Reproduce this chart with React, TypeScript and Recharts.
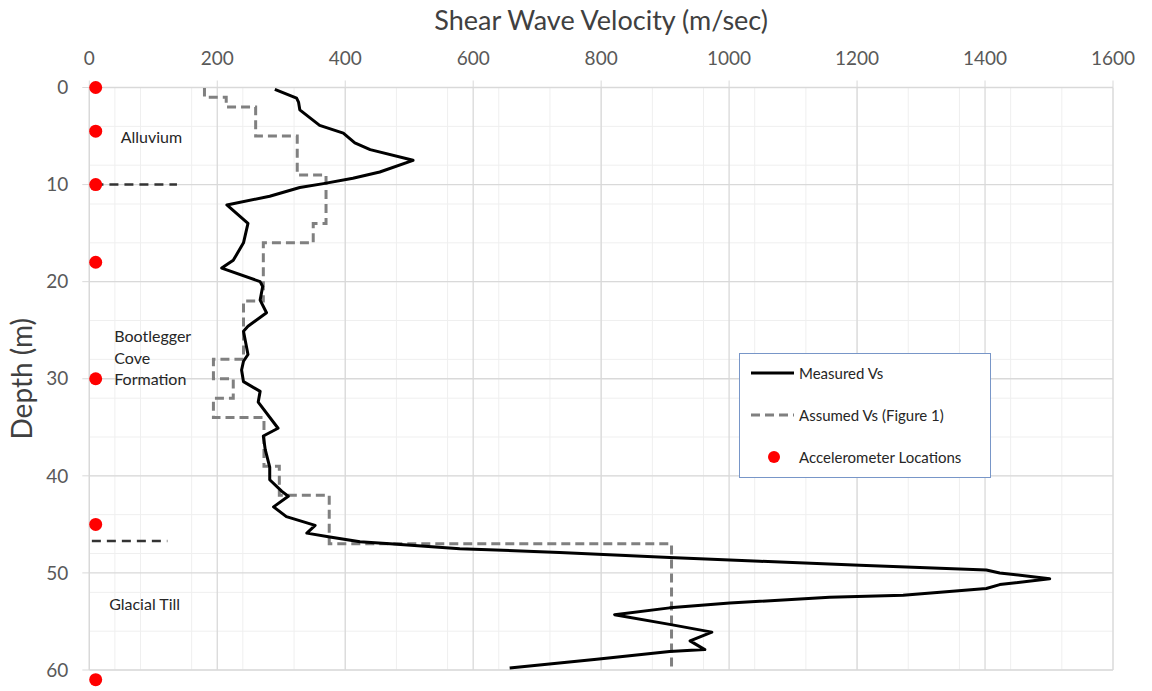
import React from 'react'
import {
  LineChart,
  Line,
  XAxis,
  YAxis,
  CartesianGrid,
  ReferenceDot,
  Legend,
  Label,
} from 'recharts'

const FONT = 'Lato, "Open Sans", sans-serif'

// measured shear wave velocity profile: [velocity m/s, depth m]
const measuredVs: [number, number][] = [
  [290, 0.2], [324, 1.1], [327, 1.5], [329, 2.3], [360, 3.9], [397, 4.7], [415, 5.7],
  [439, 6.4], [506, 7.5], [454, 8.7], [412, 9.35], [366, 9.9], [329, 10.3], [282, 11.2],
  [215, 12.1], [248, 14.0], [241, 16.0], [225, 17.8], [207, 18.6], [267, 20.0], [271, 20.5],
  [267, 21.9], [277, 23.2], [248, 24.6], [241, 25.1], [248, 27.5], [241, 28.2], [238, 29.1],
  [241, 30.3], [267, 31.3], [264, 32.4], [295, 35.1], [272, 35.9], [275, 37.3], [282, 39.1],
  [282, 40.4], [301, 41.6], [311, 42.1], [288, 43.2], [308, 44.2], [353, 45.1], [340, 45.9],
  [376, 46.3], [423, 46.8], [470, 47.0], [579, 47.5], [735, 47.9], [907, 48.4], [1048, 48.8],
  [1204, 49.2], [1402, 49.7], [1423, 50.0], [1501, 50.6], [1423, 51.2], [1402, 51.6],
  [1272, 52.3], [1157, 52.5], [1001, 53.1], [907, 53.6], [821, 54.3], [907, 55.3], [973, 56.1],
  [939, 57.0], [962, 57.9], [907, 58.1], [793, 58.9], [657, 59.8],
]

// assumed layered profile, corner points of the step function
const assumedVs: [number, number][] = [
  [180, 0], [180, 1], [214, 1], [214, 2], [260, 2], [260, 5], [325, 5], [325, 9], [370, 9],
  [370, 14], [350, 14], [350, 16], [272, 16], [272, 22], [241, 22], [241, 28], [194, 28],
  [194, 30], [225, 30], [225, 32], [194, 32], [194, 34], [273, 34], [273, 39], [297, 39],
  [297, 42], [375, 42], [375, 47], [910, 47], [910, 60],
]

// accelerometer depths (m), all at the borehole
const accelDepths = [0, 4.5, 10, 18, 30, 45, 61]
const accelVs = 10

// formation boundary markers
const boundaries: [number, number, number][] = [
  // [depth, from Vs, to Vs]
  [10, 8, 137],
  [46.7, 4, 122],
]

// formation names: text lines, anchor velocity, first baseline depth
const formations: { lines: string[]; v: number; d: number }[] = [
  { lines: ['Alluvium'], v: 49, d: 5.7 },
  { lines: ['Bootlegger', 'Cove', 'Formation'], v: 39, d: 26.2 },
  { lines: ['Glacial Till'], v: 31, d: 53.8 },
]

const xTicks = [0, 200, 400, 600, 800, 1000, 1200, 1400, 1600]
const yTicks = [0, 10, 20, 30, 40, 50, 60]
// minor gridlines every 40 m/s and every 2 m
const xMinor = Array.from({ length: 41 }, (_, i) => i * 40)
const yMinor = Array.from({ length: 31 }, (_, i) => i * 2)

const toPts = (rows: [number, number][]) => rows.map(([v, d]) => ({ v, d }))

const legendItems = [
  { name: 'Measured Vs', kind: 'solid' },
  { name: 'Assumed Vs (Figure 1)', kind: 'dash' },
  { name: 'Accelerometer Locations', kind: 'dot' },
]

function LegendBox() {
  return (
    <div
      style={{
        width: 252,
        height: 125,
        border: '1.5px solid #7896C8',
        background: '#fff',
        boxSizing: 'border-box',
        position: 'relative',
        fontFamily: FONT,
        fontSize: 15,
        color: '#262626',
      }}
    >
      {legendItems.map((it, i) => (
        <div
          key={it.name}
          style={{ position: 'absolute', left: 10, top: 7 + i * 42, height: 24, display: 'flex', alignItems: 'center' }}
        >
          <svg width={48} height={24}>
            {it.kind === 'solid' && <line x1={1} y1={12} x2={44} y2={12} stroke="#000" strokeWidth={3} />}
            {it.kind === 'dash' && (
              <line x1={1} y1={12} x2={44} y2={12} stroke="#808080" strokeWidth={3} strokeDasharray="9 5" />
            )}
            {it.kind === 'dot' && <circle cx={24} cy={12} r={6} fill="#FF0000" />}
          </svg>
          <span style={{ marginLeft: 1 }}>{it.name}</span>
        </div>
      ))}
    </div>
  )
}

export default function App() {
  return (
    <div style={{ position: 'absolute', left: 0, top: 0, width: 1152, height: 691, background: '#fff' }}>
      <LineChart width={1152} height={691} margin={{ top: 0, right: 39, bottom: 21, left: 0 }}>
        <CartesianGrid stroke="#EFEFEF" strokeWidth={1} verticalValues={xMinor} horizontalValues={yMinor} />
        <CartesianGrid stroke="#D9D9D9" strokeWidth={1.3} verticalValues={xTicks} horizontalValues={yTicks} />
        <XAxis
          type="number"
          dataKey="v"
          orientation="top"
          domain={[0, 1600]}
          ticks={xTicks}
          height={87.5}
          stroke="#D9D9D9"
          tickSize={7}
          tickMargin={16}
          tick={{ fill: '#595959', fontSize: 19, fontFamily: FONT }}
        >
          <Label
            value="Shear Wave Velocity (m/sec)"
            position="insideTop"
            offset={11}
            style={{ fill: '#404040', fontSize: 27, fontFamily: FONT }}
          />
        </XAxis>
        <YAxis
          type="number"
          dataKey="d"
          domain={[0, 60]}
          reversed
          ticks={yTicks}
          width={89.3}
          stroke="#D9D9D9"
          tickSize={7}
          tickMargin={14}
          tick={{ fill: '#595959', fontSize: 19, fontFamily: FONT }}
        >
          <Label
            value="Depth (m)"
            angle={-90}
            position="insideLeft"
            offset={22}
            style={{ textAnchor: 'middle', fill: '#404040', fontSize: 28, fontFamily: FONT }}
          />
        </YAxis>

        {boundaries.map(([d, v0, v1], i) => (
          <Line
            key={'b' + i}
            data={[{ v: v0, d }, { v: v1, d }]}
            dataKey="d"
            stroke="#333333"
            strokeWidth={2.5}
            strokeDasharray="9 6"
            dot={false}
            isAnimationActive={false}
          />
        ))}

        <Line
          data={toPts(assumedVs)}
          dataKey="d"
          name="Assumed Vs (Figure 1)"
          stroke="#808080"
          strokeWidth={3}
          strokeDasharray="9 5"
          dot={false}
          isAnimationActive={false}
        />
        <Line
          data={toPts(measuredVs)}
          dataKey="d"
          name="Measured Vs"
          stroke="#000000"
          strokeWidth={3}
          strokeLinejoin="round"
          dot={false}
          isAnimationActive={false}
        />

        {accelDepths.map((d) => (
          <ReferenceDot key={'a' + d} x={accelVs} y={d} r={6.5} fill="#FF0000" stroke="none" ifOverflow="visible" />
        ))}

        {formations.map((f) => (
          <ReferenceDot
            key={f.lines[0]}
            x={f.v}
            y={f.d}
            ifOverflow="visible"
            shape={(p: any) => (
              <text x={p.cx} y={p.cy} fontFamily={FONT} fontSize={16} fill="#262626">
                {f.lines.map((ln, j) => (
                  <tspan key={ln} x={p.cx} dy={j === 0 ? 0 : 21.7}>
                    {ln}
                  </tspan>
                ))}
              </text>
            )}
          />
        ))}

        <Legend
          verticalAlign="middle"
          align="center"
          content={() => <LegendBox />}
          wrapperStyle={{ left: 739, top: 353, width: 252 }}
        />
      </LineChart>
    </div>
  )
}
